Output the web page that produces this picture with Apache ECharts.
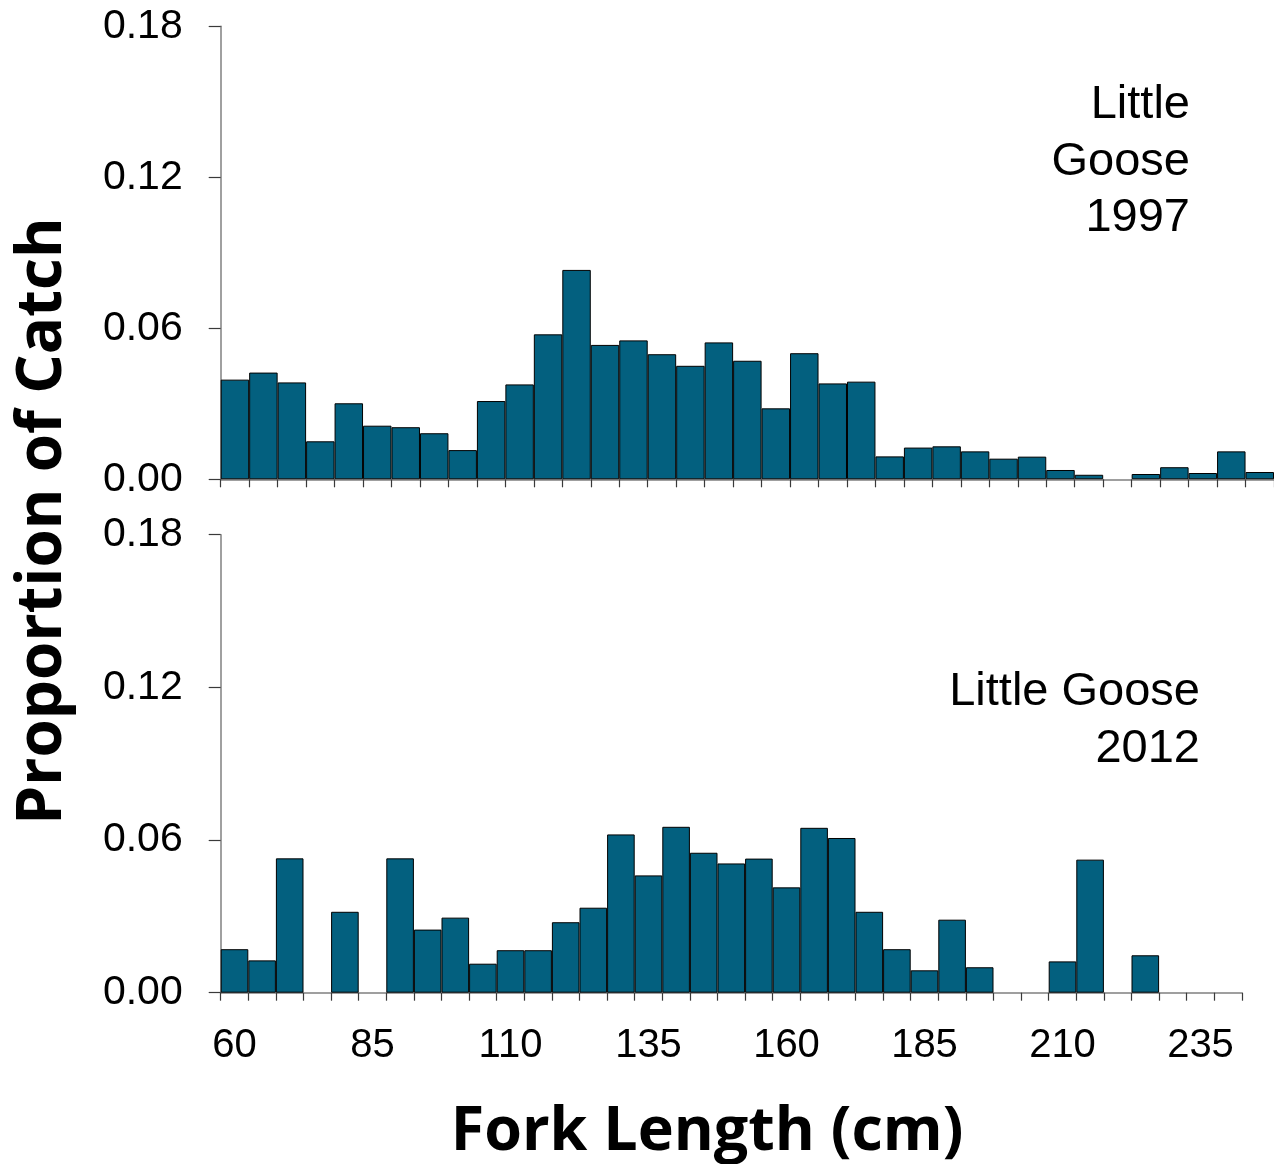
<!DOCTYPE html>
<html>
<head>
<meta charset="utf-8">
<script src="https://cdn.jsdelivr.net/npm/echarts@6/dist/echarts.min.js"></script>
<style>
html,body{margin:0;padding:0;background:#fff;}
#c{width:1274px;height:1164px;}
</style>
</head>
<body>
<div id="c"></div>
<script>
// Fork length bins (cm, lower edge of each 5-cm bin)
const binStarts = [60,65,70,75,80,85,90,95,100,105,110,115,120,125,130,135,140,145,150,155,160,165,170,175,180,185,190,195,200,205,210,215,220,225,230,235,240];

// Little Goose 1997 proportions
const lg1997 = [0.0396,0.0424,0.0385,0.0151,0.0302,0.0213,0.0207,0.0183,0.0116,0.0311,
  0.0377,0.0576,0.0832,0.0534,0.0552,0.0497,0.0451,0.0544,0.0471,0.0282,
  0.0501,0.0381,0.0388,0.0091,0.0126,0.0131,0.0111,0.0082,0.0090,0.0037,
  0.0018,0,0.0021,0.0048,0.0025,0.0111,0.0029];

// Little Goose 2012 proportions
const lg2012 = [0.0171,0.0127,0.0528,0,0.0318,0,0.0528,0.0248,0.0295,0.0114,
  0.0167,0.0167,0.0277,0.0334,0.0622,0.0461,0.0652,0.0550,0.0508,0.0527,
  0.0414,0.0648,0.0608,0.0318,0.0171,0.0088,0.0287,0.0100,0,0,
  0.0123,0.0523,0,0.0147,0,0,0];

const yTicks = [0, 0.06, 0.12, 0.18];
const panelLabels = [["Little","Goose","1997"],["Little Goose","2012"]];
const yTitle = "Proportion of Catch";
const xTitle = "Fork Length (cm)";

const BAR = '#03607f';
const AXIS = '#808080';
const TICK = '#3a3a3a';
const NUMFONT = '"Liberation Sans", Arial, sans-serif';
const BOLDFONT = '"Open Sans", "Noto Sans", sans-serif';

function yAxisCfg(idx){
  return {
    type:'value', gridIndex: idx, min: yTicks[0], max: yTicks[yTicks.length-1], interval: yTicks[1]-yTicks[0],
    splitLine:{show:false},
    axisLine:{show:true, lineStyle:{color:AXIS, width:1.5}},
    axisTick:{show:true, inside:false, length:12, lineStyle:{color:TICK, width:1.2}},
    axisLabel:{fontSize:41, fontFamily:NUMFONT, color:'#000', margin:38, formatter: v => v.toFixed(2)}
  };
}
function xAxisCfg(idx, showLabels){
  return {
    type:'category', gridIndex: idx, data: binStarts.map(String), boundaryGap:true,
    axisLine:{show:true, onZero:false, lineStyle:{color:AXIS, width:1.5}},
    axisTick:{show:true, interval:0, length:8, lineStyle:{color:TICK, width:1.2}},
    axisLabel:{show:showLabels, interval:4, fontSize:40, fontFamily:NUMFONT, color:'#000', margin:33}
  };
}
const toBar = arr => arr.map(v => v === 0 ? '-' : v);

const chart = echarts.init(document.getElementById('c'), null, {renderer:'canvas'});
const textLines = [];
panelLabels[0].forEach((t,i)=>textLines.push({type:'text', right:84, top: 110 + i*56.5 - 28, style:{text:t, fontSize:47, fontFamily:NUMFONT, fill:'#000', textAlign:'right'}}));
panelLabels[1].forEach((t,i)=>textLines.push({type:'text', right:74, top: 697 + i*56.5 - 28, style:{text:t, fontSize:47, fontFamily:NUMFONT, fill:'#000', textAlign:'right'}}));

chart.setOption({
  animation:false,
  backgroundColor:'#fff',
  grid:[
    {left:220.7, top:26.3, width:37*28.6, height:453},
    {left:220.7, top:534.7, width:37*27.6, height:458}
  ],
  xAxis:[xAxisCfg(0,false), xAxisCfg(1,true)],
  yAxis:[yAxisCfg(0), yAxisCfg(1)],
  series:[
    {type:'bar', xAxisIndex:0, yAxisIndex:0, data:toBar(lg1997), barCategoryGap:'0%', itemStyle:{color:BAR, borderColor:'#000', borderWidth:1}},
    {type:'bar', xAxisIndex:1, yAxisIndex:1, data:toBar(lg2012), barCategoryGap:'0%', itemStyle:{color:BAR, borderColor:'#000', borderWidth:1}}
  ],
  graphic: textLines.concat([
    {type:'text', x:43, y:521, rotation:Math.PI/2, style:{text:yTitle, fontSize:62, fontWeight:'bold', fontFamily:BOLDFONT, fill:'#000', textAlign:'center', textVerticalAlign:'middle'}},
    {type:'text', x:707, y:1133, style:{text:xTitle, fontSize:61, fontWeight:'bold', fontFamily:BOLDFONT, fill:'#000', textAlign:'center', textVerticalAlign:'middle'}}
  ])
});
</script>
</body>
</html>
